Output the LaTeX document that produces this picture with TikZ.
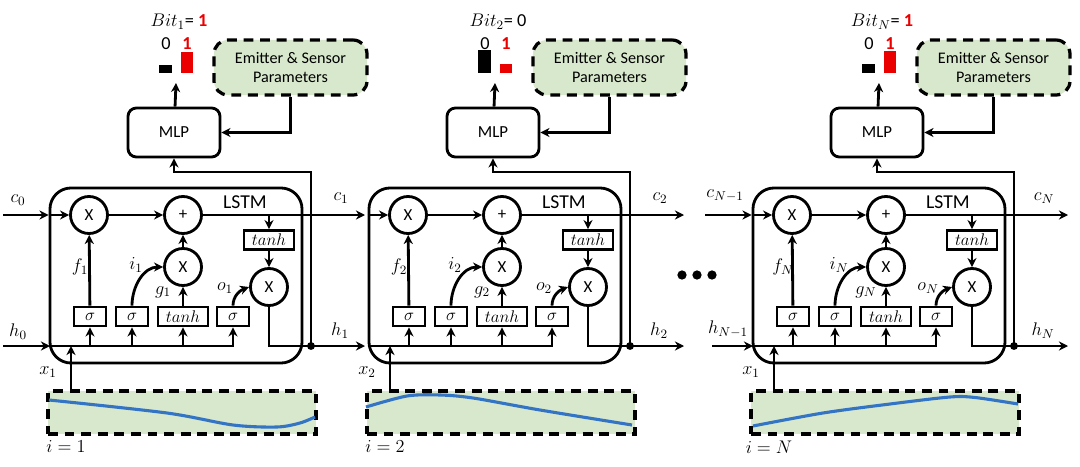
\RequirePackage{fix-cm}
\documentclass[tikz,border=0pt]{standalone}
\usepackage{fontspec}
\setmainfont{Carlito}
\usetikzlibrary{arrows.meta, positioning}
\definecolor{panelgreen}{RGB}{216,232,204}
\definecolor{curveblue}{RGB}{52,116,196}
\definecolor{bitred}{RGB}{235,0,0}

\begin{document}
\begin{tikzpicture}[x=0.025cm, y=-0.025cm, line width=2pt]
  \tikzstyle{lstm} = [draw, rounded corners=15pt, minimum width=6.3cm, minimum height=4.375cm]
  \tikzstyle{op} = [circle, draw, minimum size=0.925cm, inner sep=0pt, font=\fontsize{12}{12}\selectfont]
  \tikzstyle{gate} = [rectangle, draw, minimum width=0.8cm, minimum height=0.475cm, inner sep=0pt, font=\fontsize{12}{12}\selectfont]
  \tikzstyle{mlp} = [rectangle, rounded corners=6pt, draw, minimum width=2.3cm, minimum height=1.225cm, font=\fontsize{12}{12}\selectfont]
  \tikzstyle{param} = [rectangle, rounded corners=10pt, draw, line width=2.3pt, dash pattern=on 7pt off 4.8pt, fill=panelgreen, minimum width=3.825cm, minimum height=1.375cm, align=center, font=\fontsize{11.5}{14}\selectfont]
  \tikzstyle{signal} = [rectangle, draw, line width=2.3pt, dash pattern=on 7pt off 4.8pt, fill=panelgreen, minimum width=6.7cm, minimum height=1.075cm]
  \tikzstyle{arrow} = [->, >={Stealth[length=6.5pt, width=6.5pt]}]
  \tikzstyle{lbl} = [inner sep=0pt, font=\fontsize{13}{13}\selectfont]

  \useasboundingbox (0,0) rectangle (1080,467);

  % one LSTM step per shift
  \foreach \dx/\k/\xk/\bitv/\hk/\hr in {0/1/1/{\textcolor{bitred}{\textbf{1}}}/8/21,
      319/2/2/{0}/23/9, 703/N/1/{\textcolor{bitred}{\textbf{1}}}/9/22} {
  \begin{scope}[shift={(\dx,0)}]
    \node[lstm] (lstm\k) at (176,275.5) {};
    \node[lbl, font=\fontsize{14}{14}\selectfont] (title\k) at (245,202) {LSTM};
    \node[op] (fx\k) at (89,215) {X};
    \node[op] (add\k) at (183,215) {+};
    \node[op] (ix\k) at (183,267) {X};
    \node[op] (ox\k) at (269,287) {X};
    \node[gate, minimum width=1.25cm] (tc\k) at (269,240) {$tanh$};
    \node[gate] (sf\k) at (90,316.5) {$\sigma$};
    \node[gate] (si\k) at (132,316.5) {$\sigma$};
    \node[gate, minimum width=1.25cm] (tg\k) at (183,316.5) {$tanh$};
    \node[gate] (so\k) at (233,316.5) {$\sigma$};
    \node[mlp] (mlp\k) at (174,132.5) {MLP};
    \node[param] (emit\k) at (290.5,67.5) {Emitter \& Sensor\\Parameters};
    \node[signal] (sig\k) at (182,412.5) {};

    \coordinate (hin\k) at (50,346);
    \coordinate (dot\k) at (311,346);
    \coordinate (bend\k) at (311,172);
    \coordinate (cout\k) at (365,215);
    \coordinate (hout\k) at (365,346);
    \coordinate (xs\k) at (71,391);
    \coordinate (prob\k) at (176,83);

    \node[lbl] (f\k) at (80,267) {$f_{\k}$};
    \node[lbl] (i\k) at (136,265) {$i_{\k}$};
    \node[lbl] (g\k) at (163,292) {$g_{\k}$};
    \node[lbl] (o\k) at (225,288) {$o_{\k}$};
    \node[lbl] (cl\k) at (341,198) {$c_{\k}$};
    \node[lbl] (hl\k) at (340,331) {$h_{\k}$};
    \node[lbl] (x\k) at (48,372) {$x_{\xk}$};
    \node[lbl] (step\k) at (66,447) {$i=\k$};
    \node[lbl] (bit\k) at (179,22) {$Bit_{\k}$= \bitv};
    \node[lbl] (zero\k) at (166,44) {0};
    \node[lbl, text=bitred] (one\k) at (187,44) {\textbf{1}};
    \fill (159,73) rectangle (172,{73-\hk});
    \fill[bitred] (181,73) rectangle (193,{73-\hr});

    \draw[arrow] (lstm\k.west |- fx\k) -- (fx\k);
    \draw[arrow] (fx\k) -- (add\k);
    \draw[arrow] (add\k) -- (cout\k);
    \draw[arrow] (tc\k |- add\k) -- (tc\k);
    \draw[arrow] (tc\k) -- (ox\k);
    \draw[arrow] (ix\k) -- (add\k);
    \draw[arrow] (sf\k) -- (fx\k);
    \draw[arrow] (tg\k) -- (ix\k);
    \draw[arrow] (si\k.north) to[out=90, in=180] (ix\k.west);
    \draw[arrow] (so\k.north) to[out=90, in=200] (ox\k.west);
    \draw[arrow] (hin\k) -| (so\k);
    \draw[arrow] (sf\k |- hin\k) -- (sf\k);
    \draw[arrow] (si\k |- hin\k) -- (si\k);
    \draw[arrow] (tg\k |- hin\k) -- (tg\k);
    \draw[arrow] (xs\k) -- (xs\k |- hin\k);
    \draw (ox\k) |- (dot\k);
    \draw[arrow] (dot\k) -- (hout\k);
    \fill (dot\k) circle (2.8pt);
    \draw[arrow] (dot\k) -- (bend\k) -| (mlp\k);
    \draw[arrow] (emit\k) |- (mlp\k);
    \draw[arrow] (mlp\k) -- (prob\k);
  \end{scope}
  }

  % inputs of the first and last step
  \coordinate (cstart1) at (3,215);
  \coordinate (hstart1) at (3,346);
  \coordinate (cstartN) at (705,215);
  \coordinate (hstartN) at (712,346);
  \draw[arrow] (cstart1) -- (lstm1.west |- cstart1);
  \draw[arrow] (hstart1) -- (hin1);
  \draw[arrow] (cstartN) -- (lstmN.west |- cstartN);
  \draw[arrow] (hstartN) -- (hinN);
  \node[lbl] (c0) at (18,200) {$c_0$};
  \node[lbl] (h0) at (18,332) {$h_0$};
  \node[lbl] (cN) at (725,196) {$c_{N-1}$};
  \node[lbl] (hN) at (728,329) {$h_{N-1}$};

  % measured signals
  \draw[curveblue, line width=2.2pt] plot[smooth] coordinates {(49,400) (167,413) (233,425) (277,427) (300,423) (315,417)};
  \draw[curveblue, line width=2.2pt] plot[smooth] coordinates {(366,407) (407,396) (440,395) (473,398) (540,410) (632,425)};
  \draw[curveblue, line width=2.2pt] plot[smooth] coordinates {(753,426) (823,413) (890,404) (950,397) (975,397.5) (1018,404)};

  \foreach \x in {682,697,712} \fill (\x,275) circle (3.3pt);
\end{tikzpicture}
\end{document}
